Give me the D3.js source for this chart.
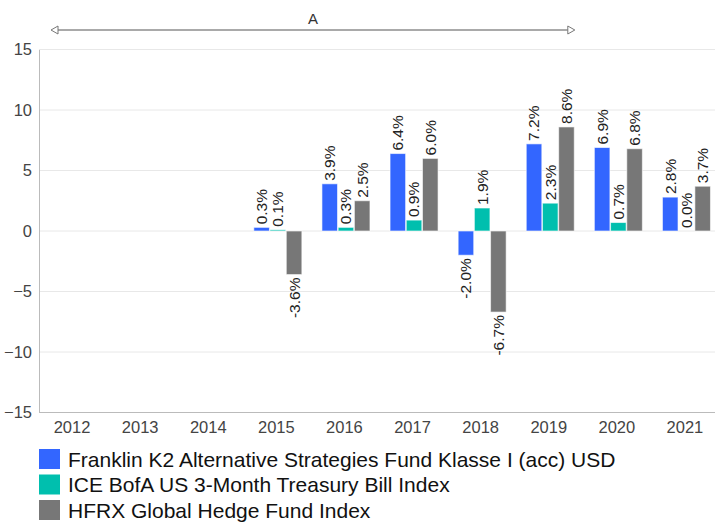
<!DOCTYPE html>
<html>
<head>
<meta charset="utf-8">
<script src="https://cdn.jsdelivr.net/npm/d3@7"></script>
<style>
  body { margin: 0; background: #fff; }
  svg { display: block; font-family: Arial, "Liberation Sans", sans-serif; }
</style>
</head>
<body>
<script>
// data
const years = ['2012', '2013', '2014', '2015', '2016', '2017', '2018', '2019', '2020', '2021'];
const seriesNames = [
  'Franklin K2 Alternative Strategies Fund Klasse I (acc) USD',
  'ICE BofA US 3-Month Treasury Bill Index',
  'HFRX Global Hedge Fund Index'
];
const fundValues = [null, null, null, 0.3, 3.9, 6.4, -2.0, 7.2, 6.9, 2.8];
const tbillValues = [null, null, null, 0.1, 0.3, 0.9, 1.9, 2.3, 0.7, 0.0];
const hfrxValues = [null, null, null, -3.6, 2.5, 6.0, -6.7, 8.6, 6.8, 3.7];
const yTicks = [-15, -10, -5, 0, 5, 10, 15];
const colors = ['#3366ff', '#00bfae', '#777777'];
const annotation = {label: 'A', from: '2012', to: '2019'};

const allValues = [fundValues, tbillValues, hfrxValues];

const width = 715, height = 525;
const margin = {top: 49.5, left: 39, bottom: 112.5};

const svg = d3.select('body').append('svg')
  .attr('width', width)
  .attr('height', height);

// scales
const x0 = d3.scaleBand().domain(years).range([38, 719]);
const x1 = d3.scaleBand().domain(d3.range(3)).range([-22.5, 25.5]).paddingInner(0.04);
const y = d3.scaleLinear().domain([-15, 15]).range([height - margin.bottom, margin.top]);

// gridlines
svg.append('g')
  .selectAll('line')
  .data(yTicks)
  .join('line')
  .attr('x1', margin.left)
  .attr('x2', width)
  .attr('y1', d => y(d))
  .attr('y2', d => y(d))
  .attr('stroke', '#e8e8e8')
  .attr('stroke-width', 1);

// y axis
const yaxis = d3.axisLeft(y).tickValues(yTicks).tickSize(0).tickPadding(7);
const g_yaxis = svg.append('g')
  .attr('transform', `translate(${margin.left},0)`)
  .call(yaxis);
g_yaxis.select('.domain').attr('stroke', '#bbbbbb');
g_yaxis.selectAll('text')
  .attr('font-size', 16.5)
  .attr('font-family', 'Arial, "Liberation Sans", sans-serif')
  .attr('fill', '#444');

// x axis
const xaxis = d3.axisBottom(x0).tickSize(0).tickPadding(9);
const g_xaxis = svg.append('g')
  .attr('transform', `translate(0,${y(-15)})`)
  .call(xaxis);
g_xaxis.select('.domain').attr('d', `M${margin.left},0H${width}`).attr('stroke', '#bbbbbb');
g_xaxis.selectAll('text')
  .attr('font-size', 16.5)
  .attr('font-family', 'Arial, "Liberation Sans", sans-serif')
  .attr('fill', '#444');

// bars
const barData = [];
allValues.forEach((vals, s) => {
  vals.forEach((v, i) => {
    if (v !== null) barData.push({year: years[i], s: s, v: v});
  });
});

const bx = d => x0(d.year) + x0.bandwidth() / 2 + x1(d.s);

svg.append('g')
  .selectAll('rect')
  .data(barData)
  .join('rect')
  .attr('x', bx)
  .attr('width', x1.bandwidth())
  .attr('y', d => y(Math.max(0, d.v)))
  .attr('height', d => Math.abs(y(d.v) - y(0)))
  .attr('fill', d => colors[d.s])
  .attr('stroke', '#ffffff')
  .attr('stroke-opacity', 0.6)
  .attr('stroke-width', 1);

// value labels
svg.append('g')
  .selectAll('text')
  .data(barData)
  .join('text')
  .attr('transform', d => {
    const cx = bx(d) + x1.bandwidth() / 2;
    const cy = d.v >= 0 ? y(d.v) - 3 : y(d.v) + 3;
    return `translate(${cx},${cy}) rotate(-90)`;
  })
  .attr('text-anchor', d => d.v >= 0 ? 'start' : 'end')
  .attr('dy', '0.35em')
  .attr('font-size', 15.5)
  .attr('fill', '#222')
  .text(d => d.v.toFixed(1) + '%');

// annotation arrow
const ax1 = x0(annotation.from) + 13;
const ax2 = x0(annotation.to) + x0.bandwidth() - 8;
const ay = 30;
const ann = svg.append('g');
ann.append('line')
  .attr('x1', ax1 + 7).attr('x2', ax2 - 7)
  .attr('y1', ay).attr('y2', ay)
  .attr('stroke', '#555').attr('stroke-width', 1);
ann.append('path')
  .attr('d', `M${ax1},${ay}L${ax1 + 7},${ay - 4}L${ax1 + 7},${ay + 4}Z`)
  .attr('fill', '#fff').attr('stroke', '#777');
ann.append('path')
  .attr('d', `M${ax2},${ay}L${ax2 - 7},${ay - 4}L${ax2 - 7},${ay + 4}Z`)
  .attr('fill', '#fff').attr('stroke', '#777');
ann.append('text')
  .attr('x', (ax1 + ax2) / 2)
  .attr('y', ay - 6)
  .attr('text-anchor', 'middle')
  .attr('font-size', 15)
  .attr('fill', '#333')
  .text(annotation.label);

// legend
const legend = svg.append('g')
  .selectAll('g')
  .data(seriesNames)
  .join('g')
  .attr('transform', (d, i) => `translate(39,${449 + i * 25.5})`);
legend.append('rect')
  .attr('width', 21)
  .attr('height', 20)
  .attr('fill', (d, i) => colors[i]);
legend.append('text')
  .attr('x', 29)
  .attr('y', 10)
  .attr('dy', '0.36em')
  .attr('font-size', 21)
  .attr('fill', '#111')
  .text(d => d);
</script>
</body>
</html>
